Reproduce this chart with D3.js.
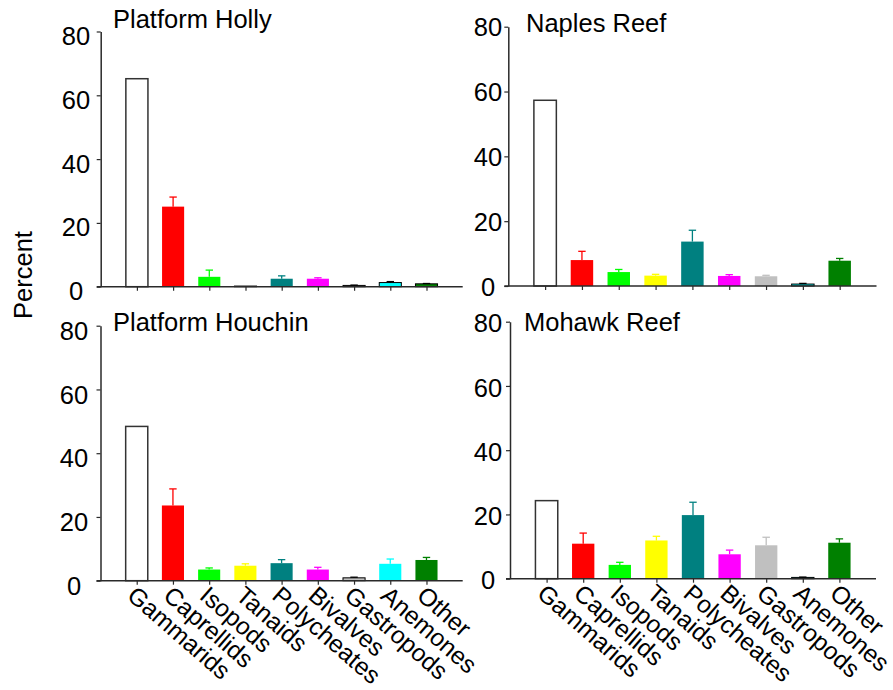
<!DOCTYPE html>
<html>
<head>
<meta charset="utf-8">
<script src="https://cdn.jsdelivr.net/npm/d3@7"></script>
<style>
  html, body { margin: 0; padding: 0; background: #ffffff; }
  svg { display: block; font-family: "Liberation Sans", Arial, sans-serif; }
</style>
</head>
<body>
<svg id="chart" width="893" height="690"></svg>
<script>
// Prey categories and their bar colours
const categories = ["Gammarids", "Caprellids", "Isopods", "Tanaids", "Polycheates",
                    "Bivalves", "Gastropods", "Anemones", "Other"];
const barColors = ["#ffffff", "#ff0000", "#00ff00", "#ffff00", "#008080",
                   "#ff00ff", "#c0c0c0", "#00ffff", "#008000"];

// Site names
const siteNames = ["Platform Holly", "Naples Reef", "Platform Houchin", "Mohawk Reef"];

// Mean percent and standard error per site
const hollyPct   = [65.2, 25.1, 3.1, 0.2, 2.5, 2.5, 0.4, 1.3, 0.9];
const hollyErr   = [0.0, 3.0, 2.1, 0.0, 0.9, 0.3, 0.1, 0.3, 0.1];
const naplesPct  = [57.3, 8.0, 4.3, 3.2, 13.7, 3.1, 3.0, 0.6, 7.8];
const naplesErr  = [0.0, 2.7, 0.8, 0.4, 3.5, 0.4, 0.3, 0.2, 0.7];
const houchinPct = [48.4, 23.6, 3.5, 4.7, 5.5, 3.5, 0.9, 5.3, 6.5];
const houchinErr = [0.0, 5.2, 0.5, 0.6, 1.1, 0.7, 0.2, 1.5, 0.8];
const mohawkPct  = [24.3, 10.9, 4.3, 11.9, 19.8, 7.6, 10.4, 0.4, 11.2];
const mohawkErr  = [0.0, 3.3, 0.8, 1.3, 4.0, 1.3, 2.5, 0.1, 1.2];

// Y axis ticks
const yTicks = [0, 20, 40, 60, 80];
const yMax = 80;

// Panel frames (pixel layout of each small chart)
const panels = [
  { name: siteNames[0], pct: hollyPct,   err: hollyErr,   x0: 100.7, x1: 462.7, yTop: 31.5,  yZero: 286.7, labelX: 76,  labelDy: 4,   titleX: 113, titleY: 28,   showX: false },
  { name: siteNames[1], pct: naplesPct,  err: naplesErr,  x0: 508.3, x1: 876.5, yTop: 26.7,  yZero: 286.0, labelX: 488, labelDy: 0,   titleX: 526, titleY: 31.5, showX: false },
  { name: siteNames[2], pct: houchinPct, err: houchinErr, x0: 100.5, x1: 462.7, yTop: 325.7, yZero: 580.7, labelX: 74,  labelDy: 4.5, titleX: 113, titleY: 330.5, showX: true },
  { name: siteNames[3], pct: mohawkPct,  err: mohawkErr,  x0: 510.0, x1: 876.0, yTop: 321.7, yZero: 578.7, labelX: 488, labelDy: 1,   titleX: 524, titleY: 331,  showX: true }
];

const svg = d3.select("#chart");
const axisColor = "#2a2a2a";
const fontSize = 25.5;
const catFontSize = 24.5;
const fontFamily = "'Liberation Sans', Arial, sans-serif";

panels.forEach(p => {
  const g = svg.append("g");

  const x = d3.scalePoint().domain(categories).range([p.x0, p.x1]).padding(1);
  const y = d3.scaleLinear().domain([0, yMax]).range([p.yZero, p.yTop]);
  const barW = x.step() * 0.61;

  const rows = categories.map((c, i) => ({ cat: c, v: p.pct[i], e: p.err[i], color: barColors[i], i }));

  // Bars
  g.selectAll("rect.bar").data(rows).enter().append("rect")
    .attr("class", "bar")
    .attr("x", d => x(d.cat) - barW / 2)
    .attr("y", d => y(d.v))
    .attr("width", barW)
    .attr("height", d => y(0) - y(d.v))
    .attr("fill", d => d.color)
    .attr("stroke", d => d.i === 0 ? "#333333" : (d.v < 2 ? "#000000" : "none"))
    .attr("stroke-width", d => d.i === 0 ? 1.5 : 1);

  // Error bars (upper whisker only)
  const eb = g.selectAll("g.err").data(rows.filter(d => d.e > 0)).enter().append("g")
    .attr("class", "err")
    .attr("stroke", d => d.i === 0 ? "#333333" : (d.v < 2 ? "#000000" : d.color))
    .attr("stroke-width", 1.3);
  eb.append("line")
    .attr("x1", d => x(d.cat)).attr("x2", d => x(d.cat))
    .attr("y1", d => y(d.v)).attr("y2", d => y(d.v + d.e));
  eb.append("line")
    .attr("x1", d => x(d.cat) - 3.7).attr("x2", d => x(d.cat) + 3.7)
    .attr("y1", d => y(d.v + d.e)).attr("y2", d => y(d.v + d.e));

  // Y axis
  const yAxis = g.append("g")
    .attr("transform", `translate(${p.x0},0)`)
    .call(d3.axisLeft(y).tickValues(yTicks).tickSize(4).tickSizeOuter(0));
  yAxis.select(".domain").attr("stroke", axisColor).attr("stroke-width", 1.5);
  yAxis.selectAll(".tick line").attr("stroke", axisColor).attr("stroke-width", 1.2);
  yAxis.selectAll(".tick text")
    .attr("x", p.labelX - p.x0)
    .attr("dy", null)
    .attr("y", p.labelDy + fontSize * 0.355)
    .attr("text-anchor", "middle")
    .attr("fill", "#000")
    .style("font-size", fontSize + "px")
    .style("font-family", fontFamily);

  // X axis
  const xAxis = g.append("g")
    .attr("transform", `translate(0,${p.yZero})`)
    .call(d3.axisBottom(x).tickSize(4).tickSizeOuter(0));
  xAxis.select(".domain").attr("stroke", axisColor).attr("stroke-width", 1.5)
    .attr("d", `M${p.x0 - 4},0H${p.x1}`);
  xAxis.selectAll(".tick line").attr("stroke", axisColor).attr("stroke-width", 1.2);
  if (p.showX) {
    xAxis.selectAll(".tick text")
      .attr("x", 0).attr("y", 0)
      .attr("dy", "0.71em")
      .attr("transform", "translate(0,4) rotate(41)")
      .attr("text-anchor", "start")
      .attr("fill", "#000")
      .style("font-size", catFontSize + "px")
      .style("font-family", fontFamily);
  } else {
    xAxis.selectAll(".tick text").remove();
  }

  // Site title
  g.append("text")
    .attr("x", p.titleX).attr("y", p.titleY)
    .attr("fill", "#000")
    .style("font-size", fontSize + "px")
    .text(p.name);
});

// Shared y-axis title
svg.append("text")
  .attr("transform", "translate(32,275) rotate(-90)")
  .attr("text-anchor", "middle")
  .attr("fill", "#000")
  .style("font-size", fontSize + "px")
  .text("Percent");
</script>
</body>
</html>
